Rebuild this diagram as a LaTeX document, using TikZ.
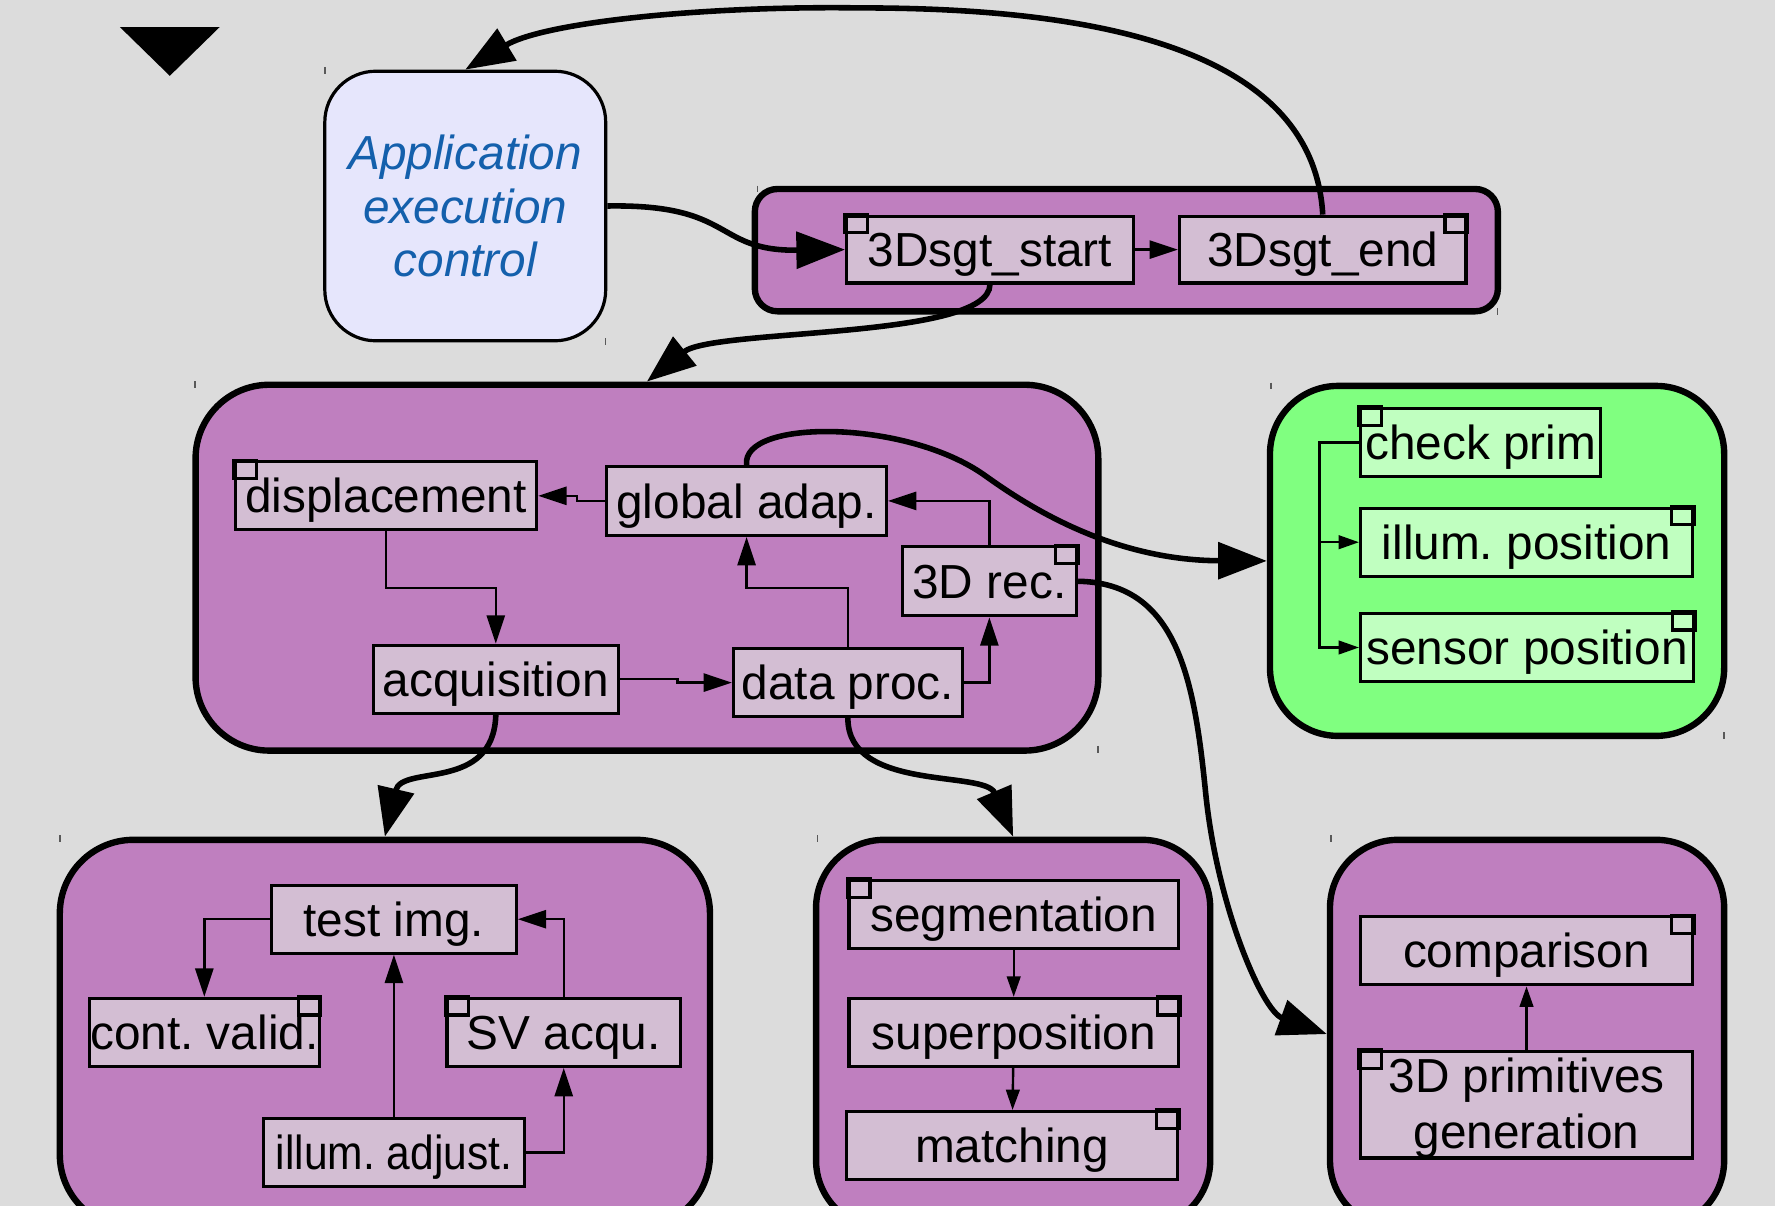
\documentclass[tikz,border=0pt]{standalone}
\usepackage{fontspec}
\usepackage{graphicx}
\setmainfont{Liberation Sans}
\usetikzlibrary{arrows.meta}
\frenchspacing

\definecolor{bggray}{RGB}{220,220,220}
\definecolor{grpviolet}{RGB}{191,127,191}
\definecolor{boxviolet}{RGB}{211,190,211}
\definecolor{grpgreen}{RGB}{128,255,128}
\definecolor{boxgreen}{RGB}{192,255,192}
\definecolor{applav}{RGB}{230,230,252}
\definecolor{appblue}{RGB}{20,96,172}

\tikzset{
  group/.style={draw, line width=1.6pt, fill=grpviolet, rounded corners=0.6cm, inner sep=0pt},
  task/.style={draw, line width=0.8pt, fill=boxviolet, inner sep=0pt, align=center,
               text height=0.96em, text depth=0.1em, font=\fontsize{12}{14.2}\selectfont},
  gtask/.style={task, fill=boxgreen},
  cornersq/.style={draw, line width=0.8pt},
  flow/.style={line width=0.6pt, -{Triangle[length=2.5mm,width=1.6mm]}},
  sflow/.style={line width=0.6pt, -{Triangle[length=1.8mm,width=1.2mm]}},
  bigflow/.style={line width=1.4pt, -{Triangle[length=4.3mm,width=3.2mm]}},
  handle/.style={draw=black!65, line width=0.4pt},
}

\begin{document}
\begin{tikzpicture}[x=0.01cm, y=-0.01cm]
    \clip (0,0) rectangle (1568,1065);
    \fill[bggray] (0,0) rectangle (1568,1065);
    \fill (106,24) -- (194,24) -- (150,67) -- cycle;

    % groups
    \node[draw, line width=0.8pt, fill=applav, rounded corners=0.45cm, minimum width=2.48cm, minimum height=2.38cm,
          text=appblue, align=center, font=\fontsize{12}{13.5}\selectfont\itshape] (app) at (411,182) {Application\\execution\\control};
    \node[group, rounded corners=0.2cm, minimum width=6.56cm, minimum height=1.08cm] (grpsgt) at (995,221) {};
    \node[group, rounded corners=0.65cm, minimum width=7.97cm, minimum height=3.23cm] (grpproc) at (571.5,501.5) {};
    \node[group, fill=grpgreen, minimum width=4.01cm, minimum height=3.09cm] (grpprim) at (1322.5,495.5) {};
    \node[group, rounded corners=0.65cm, minimum width=5.74cm, minimum height=3.43cm] (grpacq) at (340,913.5) {};
    \node[group, minimum width=3.48cm, minimum height=3.43cm] (grpmatch) at (895,913.5) {};
    \node[group, minimum width=3.48cm, minimum height=3.43cm] (grpgen) at (1349,913.5) {};

    % tasks
    \node[task, minimum width=2.53cm, minimum height=0.59cm] (start) at (874.5,220.5) {3Dsgt\_start};
    \node[task, minimum width=2.53cm, minimum height=0.59cm] (end) at (1168.5,220.5) {3Dsgt\_end};

    \node[task, minimum width=2.66cm, minimum height=0.60cm] (disp) at (341,438) {displacement};
    \node[task, minimum width=2.47cm, minimum height=0.61cm] (ga) at (659.5,442.5) {global adap.};
    \node[task, minimum width=1.54cm, minimum height=0.61cm] (rec) at (874,513.5) {3D rec.};
    \node[task, minimum width=2.16cm, minimum height=0.60cm] (acq) at (438,600) {acquisition};
    \node[task, minimum width=2.02cm, minimum height=0.60cm] (dp) at (749,603) {data proc.};

    \node[gtask, minimum width=2.12cm, minimum height=0.60cm] (check) at (1308,391) {check prim};
    \node[gtask, minimum width=2.93cm, minimum height=0.60cm] (illumpos) at (1348.5,479) {illum. position};
    \node[gtask, minimum width=2.94cm, minimum height=0.60cm] (sensor) at (1349,572) {sensor position};

    \node[task, minimum width=2.16cm, minimum height=0.60cm] (test) at (348,812) {test img.};
    \node[task, minimum width=2.03cm, minimum height=0.60cm] (cont) at (180.5,912) {cont. valid.};
    \node[task, minimum width=2.06cm, minimum height=0.60cm] (sv) at (498,912) {SV acqu.};
    \node[task, minimum width=2.30cm, minimum height=0.60cm] (illadj) at (348,1018) {\scalebox{0.89}[1]{illum. adjust.}};

    \node[task, minimum width=2.91cm, minimum height=0.60cm] (seg) at (895.5,808) {segmentation};
    \node[task, minimum width=2.91cm, minimum height=0.60cm] (sup) at (895.5,912) {superposition};
    \node[task, minimum width=2.92cm, minimum height=0.60cm] (match) at (894,1012) {matching};

    \node[task, minimum width=2.93cm, minimum height=0.60cm] (comp) at (1348.5,840) {comparison};
    \node[task, text height=2.3em, minimum width=2.93cm, minimum height=0.94cm] (prim) at (1348.5,976) {3D primitives\\generation};

    % corner squares
    \foreach \n in {start, disp, check, sv, seg, prim}
        \draw[cornersq] (\n.north west) rectangle +(20,16);
    \foreach \n in {end, rec, illumpos, sensor, cont, sup, match, comp}
        \draw[cornersq] (\n.north east) rectangle +(-20,16);

    % links inside groups
    \draw[flow] (start) -- (end);
    \draw[flow] (ga.west) -- ++(-25,0) |- (disp.east);
    \draw[flow] (rec.north) |- (ga.east);
    \draw[flow] (disp.south) -- ++(0,50) -| (acq.north);
    \draw[flow] (dp.north) -- ++(0,-52) -| (ga.south);
    \draw[flow] (acq.east) -- ++(51,0) |- (dp.west);
    \draw[flow] (dp.east) -| (rec.south);
    \draw[sflow] (check.west) -- ++(-35,0) |- (illumpos.west);
    \draw[sflow] (check.west) -- ++(-35,0) |- (sensor.west);
    \draw[flow] (test.west) -| (cont.north);
    \draw[flow] (illadj.north) -- (test.south);
    \draw[flow] (sv.north) |- (test.east);
    \draw[flow] (illadj.east) -| (sv.south);
    \draw[sflow] (seg) -- (sup);
    \draw[sflow] (sup) -- (match);
    \draw[sflow] (prim) -- (comp);

    % links between groups
    \coordinate (toparc) at (760,7);
    \coordinate (bend1) at (870,420);
    \coordinate (bend2) at (1065,700);
    \draw[bigflow] (end.north) .. controls (1160,40) and (960,7) .. (toparc) .. controls (620,5) and (480,20) .. (app.north);
    \draw[bigflow] (app.east) .. controls (650,180) and (630,222) .. (start.west);
    \draw[bigflow] (start.south) .. controls (874,300) and (630,290) .. (grpproc.north);
    \draw[bigflow] (ga.north) .. controls (655,370) and (800,370) .. (bend1) .. controls (905,445) and (980,495) .. (grpprim.west);
    \draw[bigflow] (rec.east) .. controls (1040,515) and (1055,600) .. (bend2) .. controls (1075,800) and (1115,893) .. (grpgen.west);
    \draw[bigflow] (acq.south) .. controls (436,700) and (355,675) .. (grpacq.north);
    \draw[bigflow] (dp.south) .. controls (749,700) and (870,680) .. (grpmatch.north);

    \foreach \x/\y in {287/59, 535/299, 669/164, 1323/272, 172/337, 970/659, 1123/338, 1523/647, 53/738, 722/738, 1176/738}
        \draw[handle] (\x,\y) -- ++(0,6);
\end{tikzpicture}
\end{document}
